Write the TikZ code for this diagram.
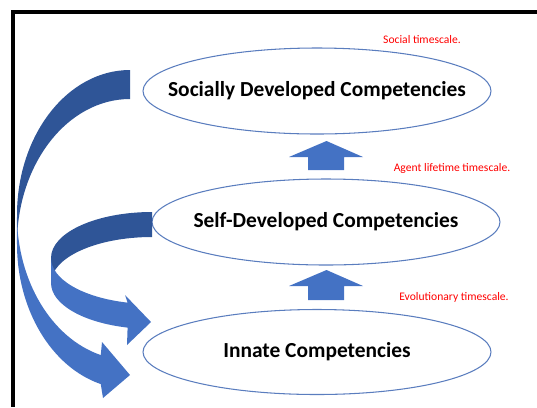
\documentclass[tikz,border=0pt]{standalone}
\usepackage{fontspec}
\setmainfont{Carlito}
\usepackage{xcolor}
\usetikzlibrary{shapes,calc,positioning}

\definecolor{ppblue}{RGB}{68,114,196}
\definecolor{ppdark}{RGB}{47,85,151}
\definecolor{ppline}{RGB}{90,125,190}

\begin{document}
\begin{tikzpicture}[
	%	style def
    x=0.02cm, y=0.02cm,
    competence/.style={inner sep=0pt, font=\fontsize{12.2}{14}\selectfont\bfseries},
    level line/.style={draw=ppline, line width=0.6pt},
    timescale/.style={text=red, font=\fontsize{6.6}{8}\selectfont, inner sep=0pt},
    front arrow/.style={fill=ppblue},
    back arrow/.style={fill=ppdark},
    frame line/.style={line width=2.3pt, line join=miter}
    ]
    \useasboundingbox (0,0) rectangle (537,-407);

	% frame
    \draw[frame line] (537,-12) -- (13,-12) -- (13,-407);

	% the three levels
    \node[competence] (social) at (317,-91) {Socially Developed Competencies};
    \node[competence] (self) at (326,-222) {Self-Developed Competencies};
    \node[competence] (innate) at (317,-352) {Innate Competencies};
    \draw[level line] (social.center) ellipse [x radius=174, y radius=43];
    \draw[level line] (self.center) ellipse [x radius=174, y radius=43];
    \draw[level line] (innate.center) ellipse [x radius=174, y radius=42.5];

	% timescales
    \node[timescale] (socialscale) at (422,-40) {Social timescale.};
    \node[timescale] (agentscale) at (452,-168) {Agent lifetime timescale.};
    \node[timescale] (evolscale) at (454,-297) {Evolutionary timescale.};

	% up arrows between levels
    \fill[front arrow] (308,-170) -- (308,-157) -- (289,-157) -- (326.5,-141) -- (363,-157) -- (344,-157) -- (344,-170) -- cycle;
    \fill[front arrow] (308,-300) -- (308,-286) -- (289,-286) -- (326.5,-270) -- (363,-286) -- (344,-286) -- (344,-300) -- cycle;

	% long curved arrow, social to innate
    \fill[back arrow] (130,-70) arc[start angle=90, end angle=180, x radius=113, y radius=145]
        -- (17,-244) arc[start angle=180, end angle=90, x radius=113, y radius=145] -- cycle;
    \fill[front arrow] (17,-215) arc[start angle=180, end angle=255, x radius=113, y radius=145]
        -- (102,-342) -- (130,-375) -- (103,-398) -- (100.75,-384.06)
        arc[start angle=255, end angle=180, x radius=113, y radius=145] -- cycle;

	% short curved arrow, self to innate
    \fill[back arrow] (152,-212) arc[start angle=90, end angle=180, x radius=101, y radius=46]
        -- (51,-283) arc[start angle=180, end angle=90, x radius=101, y radius=46] -- cycle;
    \fill[front arrow] (51,-258) arc[start angle=180, end angle=256, x radius=101, y radius=46]
        -- (125,-295) -- (151,-322) -- (127,-345) -- (127.6,-327.6)
        arc[start angle=256, end angle=180, x radius=101, y radius=46] -- cycle;
\end{tikzpicture}
\end{document}
